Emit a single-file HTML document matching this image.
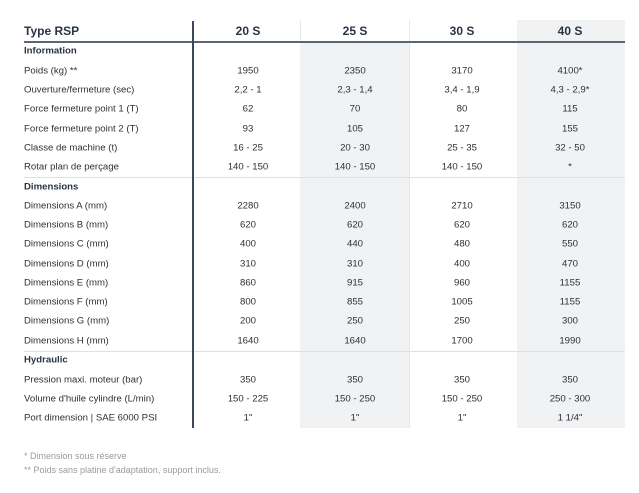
<!DOCTYPE html>
<html><head><meta charset="utf-8"><style>
html,body{margin:0;padding:0;background:#fff;width:639px;height:493px;overflow:hidden;font-family:"Liberation Sans",sans-serif;color:#2e3033;}
.abs{position:absolute}
.shade{position:absolute;background:#f1f2f4}
.t{position:absolute;font-size:9.6px;white-space:nowrap;transform:translateY(-50%)}
.c{text-align:center;width:108px;margin-left:-54px}
</style></head><body>
<div class="shade" style="left:300px;top:42px;width:109px;height:386px"></div>
<div class="shade" style="left:517px;top:20px;width:108px;height:408px"></div>
<div class="abs" style="left:409px;top:20px;width:1px;height:408px;background:#e6e8eb"></div>
<div class="abs" style="left:300px;top:20px;width:1px;height:22px;background:#e6e8eb"></div>
<div class="abs" style="left:24px;top:41px;width:601px;height:2px;background:#5a6577"></div>
<div class="abs" style="left:24px;top:177px;width:601px;height:1px;background:#dde0e4"></div>
<div class="abs" style="left:24px;top:351px;width:601px;height:1px;background:#dde0e4"></div>
<div class="abs" style="left:192px;top:21px;width:2px;height:407px;background:#3b475a"></div>
<div id="c"></div>
<script>
const rows=[
["h",31,"Type RSP","20 S","25 S","30 S","40 S"],
["s",51,"Information"],
["r",71,"Poids (kg) **","1950","2350","3170","4100*"],
["r",90,"Ouverture/fermeture (sec)","2,2 - 1","2,3 - 1,4","3,4 - 1,9","4,3 - 2,9*"],
["r",109,"Force fermeture point 1 (T)","62","70","80","115"],
["r",129,"Force fermeture point 2 (T)","93","105","127","155"],
["r",148,"Classe de machine (t)","16 - 25","20 - 30","25 - 35","32 - 50"],
["r",167,"Rotar plan de perçage","140 - 150","140 - 150","140 - 150","*"],
["s",187,"Dimensions"],
["r",206,"Dimensions A (mm)","2280","2400","2710","3150"],
["r",225,"Dimensions B (mm)","620","620","620","620"],
["r",244,"Dimensions C (mm)","400","440","480","550"],
["r",264,"Dimensions D (mm)","310","310","400","470"],
["r",283,"Dimensions E (mm)","860","915","960","1155"],
["r",302,"Dimensions F (mm)","800","855","1005","1155"],
["r",321,"Dimensions G (mm)","200","250","250","300"],
["r",341,"Dimensions H (mm)","1640","1640","1700","1990"],
["s",360,"Hydraulic"],
["r",380,"Pression maxi. moteur (bar)","350","350","350","350"],
["r",399,"Volume d'huile cylindre (L/min)","150 - 225","150 - 250","150 - 250","250 - 300"],
["r",418,"Port dimension  |  SAE 6000 PSI","1\"","1\"","1\"","1 1/4\""]];
const xs=[248,355,462,570];let h="";
for(const r of rows){const hd=r[0]=="h";const fs=hd?"font-size:12px;font-weight:bold;color:#2a3344;":r[0]=="s"?"font-weight:bold;color:#2a3344;":"";
h+=`<div class="t" style="left:24px;top:${r[1]}px;${fs}">${r[2]}</div>`;
for(let i=0;i<4;i++)if(r[3+i]!==undefined)h+=`<div class="t c" style="left:${xs[i]}px;top:${r[1]}px;${fs}">${r[3+i]}</div>`;}
h+=`<div class="t" style="left:24px;top:456px;color:#9a9a9a;font-size:9px">* Dimension sous réserve</div>`;
h+=`<div class="t" style="left:24px;top:470px;color:#9a9a9a;font-size:9px">** Poids sans platine d'adaptation, support inclus.</div>`;
document.getElementById("c").innerHTML=h;
</script>
</body></html>
